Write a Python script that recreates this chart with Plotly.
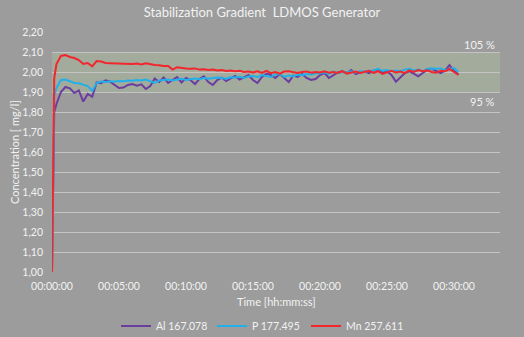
import plotly.graph_objects as go

times_s = [0, 10, 20, 40, 60, 80, 100, 120, 140, 160, 180, 200, 220,
           240, 260, 280, 300, 320, 340, 360, 380, 400, 420, 440, 460,
           480, 500, 520, 540, 560, 580, 600, 620, 640, 660, 680, 700,
           720, 740, 760, 780, 800, 820, 840, 860, 880, 900, 920, 940,
           960, 980, 1000, 1020, 1040, 1060, 1080, 1100, 1120, 1140, 1160, 1180,
           1200, 1220, 1240, 1260, 1280, 1300, 1320, 1340, 1360, 1380, 1400, 1420,
           1440, 1460, 1480, 1500, 1520, 1540, 1560, 1580, 1600, 1620, 1640, 1660,
           1680, 1700, 1720, 1740, 1760, 1780, 1800, 1820]

al_167 = [1.00, 1.80, 1.84, 1.90, 1.925, 1.918, 1.895, 1.908, 1.852, 1.89, 1.876, 1.948, 1.944,
          1.958, 1.952, 1.935, 1.920, 1.922, 1.935, 1.940, 1.932, 1.938, 1.915, 1.930, 1.968,
          1.950, 1.972, 1.945, 1.962, 1.975, 1.948, 1.970, 1.960, 1.940, 1.965, 1.978, 1.950,
          1.935, 1.960, 1.972, 1.955, 1.968, 1.980, 1.962, 1.975, 1.985, 1.960, 1.945, 1.975,
          1.992, 1.985, 1.970, 1.990, 1.970, 1.950, 1.982, 1.975, 1.990, 1.970, 1.960, 1.965,
          1.985, 1.995, 1.970, 1.985, 1.998, 2.004, 1.995, 2.010, 1.990, 1.998, 2.002, 1.994,
          2.008, 2.012, 1.996, 2.004, 1.985, 1.952, 1.975, 1.995, 2.004, 1.990, 1.978, 1.995,
          2.010, 2.016, 2.004, 1.995, 2.008, 2.035, 2.005, 1.990]

p_177 = [1.00, 1.88, 1.92, 1.96, 1.962, 1.955, 1.945, 1.944, 1.935, 1.930, 1.905, 1.945, 1.952,
         1.950, 1.953, 1.952, 1.955, 1.954, 1.957, 1.956, 1.960, 1.958, 1.962, 1.955, 1.945,
         1.958, 1.960, 1.962, 1.958, 1.962, 1.966, 1.960, 1.965, 1.968, 1.964, 1.970, 1.966,
         1.968, 1.972, 1.970, 1.966, 1.974, 1.972, 1.976, 1.970, 1.978, 1.980, 1.974, 1.985,
         1.980, 1.975, 1.988, 1.990, 1.975, 1.982, 1.978, 1.988, 1.984, 1.990, 1.986, 1.995,
         1.992, 1.998, 1.990, 2.002, 1.994, 2.000, 1.996, 2.004, 1.998, 2.004, 2.000, 2.006,
         2.008, 2.016, 2.006, 2.010, 2.004, 2.008, 2.004, 2.012, 2.016, 2.008, 2.012, 2.004,
         2.016, 2.018, 2.016, 2.018, 2.010, 2.014, 2.020, 2.000]

mn_257 = [1.00, 1.97, 2.04, 2.08, 2.085, 2.075, 2.070, 2.060, 2.040, 2.045, 2.028, 2.055, 2.052,
          2.045, 2.044, 2.043, 2.042, 2.040, 2.041, 2.040, 2.042, 2.038, 2.044, 2.038, 2.035,
          2.034, 2.030, 2.030, 2.012, 2.024, 2.020, 2.018, 2.016, 2.018, 2.012, 2.014, 2.010,
          2.012, 2.008, 2.010, 2.005, 2.007, 2.004, 2.006, 2.000, 2.002, 1.998, 2.004, 1.995,
          2.006, 1.994, 2.000, 1.992, 2.002, 2.004, 1.998, 1.995, 2.000, 2.002, 1.996, 2.000,
          1.998, 2.003, 1.996, 2.000, 1.995, 2.004, 1.992, 1.998, 2.002, 1.995, 2.000, 2.006,
          1.996, 2.004, 1.990, 2.000, 2.006, 1.998, 2.002, 1.994, 2.008, 2.000, 2.010, 2.004,
          2.008, 2.000, 1.996, 2.006, 2.004, 2.015, 1.998, 1.985]

assert len(times_s) == len(al_167) == len(p_177) == len(mn_257)

x_tick_vals = [0, 300, 600, 900, 1200, 1500, 1800]
x_tick_text = ["00:00:00", "00:05:00", "00:10:00", "00:15:00", "00:20:00", "00:25:00", "00:30:00"]

series = [
    ("Al 167.078", al_167, "#6a3d9f"),
    ("P 177.495", p_177, "#21b1e8"),
    ("Mn 257.611", mn_257, "#f2262b"),
]
legend_ids = ["legend", "legend2", "legend3"]
legend_x_px = [116, 212, 306]

band_low, band_high = 1.90, 2.10
bg = "#9c9c9c"
txt = "#f2f2f2"
font_family = "Lato, 'Open Sans', sans-serif"

fig = go.Figure()
for (name, vals, col), lid in zip(series, legend_ids):
    fig.add_trace(go.Scatter(x=times_s, y=vals, mode="lines", name=name, legend=lid,
                             line=dict(color=col, width=2)))

fig.add_shape(type="rect", xref="paper", x0=0, x1=1, yref="y", y0=band_low, y1=band_high,
              fillcolor="#a3ab9c", line=dict(width=0), layer="below")

legend_common = dict(orientation="h", xref="container", yref="container", xanchor="left",
                     y=1 - 326 / 337, yanchor="middle", font=dict(size=10.5, color=txt),
                     bgcolor="rgba(0,0,0,0)", itemwidth=30)

fig.update_layout(
    width=524, height=337,
    margin=dict(l=52, r=24, t=32, b=65, autoexpand=False),
    paper_bgcolor=bg, plot_bgcolor=bg,
    separators=", ",
    font=dict(family=font_family, color=txt, size=11),
    title=dict(text="Stabilization Gradient  LDMOS Generator", x=0.5, xanchor="center",
               y=1 - 12 / 337, yanchor="middle", yref="container",
               font=dict(size=13, color=txt, family=font_family)),
    showlegend=True,
    legend=dict(legend_common, x=legend_x_px[0] / 524),
    legend2=dict(legend_common, x=legend_x_px[1] / 524),
    legend3=dict(legend_common, x=legend_x_px[2] / 524),
    xaxis=dict(range=[0, 2006], tickvals=x_tick_vals, ticktext=x_tick_text,
               showgrid=False, zeroline=False, showline=False, ticks="",
               ticklabelstandoff=6, tickfont=dict(size=10.5, color=txt)),
    yaxis=dict(range=[1.0, 2.2], dtick=0.1, tickformat=".2f", showgrid=True,
               gridcolor="#c4c4c4", gridwidth=1, zeroline=False, showline=False, ticks="",
               ticklabelstandoff=8, tickfont=dict(size=10.5, color=txt)),
    annotations=[
        dict(text="Time [hh:mm:ss]", xref="paper", yref="paper", x=0.5, y=-(301 - 272) / 240,
             xanchor="center", yanchor="middle", showarrow=False, font=dict(size=11, color=txt)),
        dict(text="Concentration [ mg/l]", xref="paper", yref="paper", x=-(52 - 14) / 448, y=0.5,
             xanchor="center", yanchor="middle", textangle=-90, showarrow=False,
             font=dict(size=11, color=txt)),
        dict(text="105 %", xref="paper", yref="paper", x=(497 - 52) / 448, y=(272 - 44) / 240,
             xanchor="right", yanchor="middle", showarrow=False, font=dict(size=11, color=txt)),
        dict(text="95 %", xref="paper", yref="paper", x=(497 - 52) / 448, y=(272 - 101) / 240,
             xanchor="right", yanchor="middle", showarrow=False, font=dict(size=11, color=txt)),
    ],
)

fig.write_html("out.html")
